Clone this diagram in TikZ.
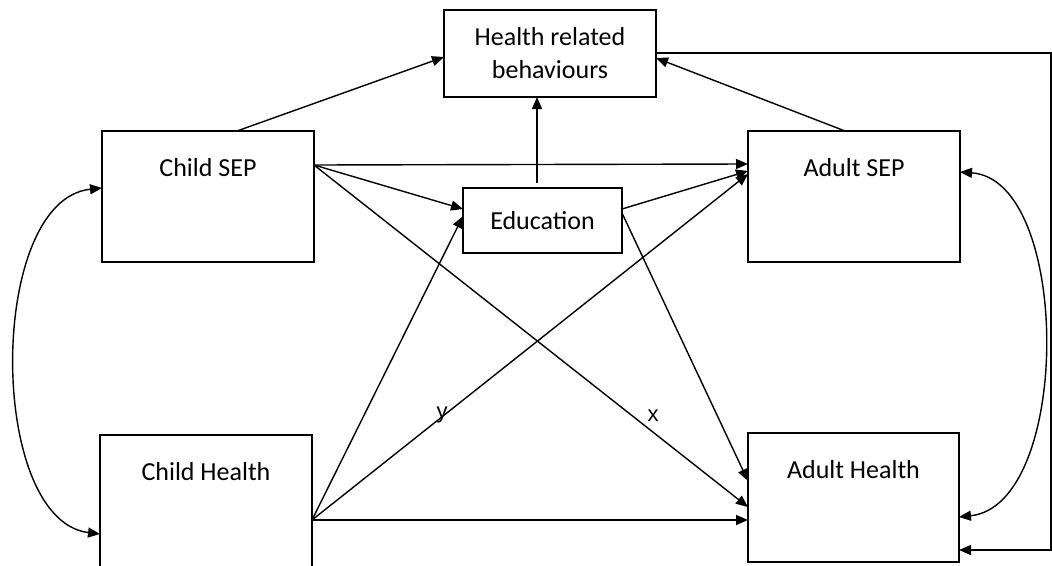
\documentclass[tikz,border=0pt]{standalone}
\usepackage{fontspec}
\setmainfont{Carlito}
\newfontfamily\arialish{Liberation Sans}
\usetikzlibrary{arrows.meta,calc}
\begin{document}
\begin{tikzpicture}[x=1pt,y=-1pt,
  box/.style={draw, line width=1.4pt, inner sep=0pt, outer sep=0pt, minimum width=#1},
  lbl/.style={font=\fontsize{26}{33}\selectfont, align=center, inner sep=0pt},
  edgelbl/.style={font=\arialish\fontsize{22}{26}\selectfont, inner sep=0pt},
  conn/.style={line width=1.4pt, -{Triangle[length=12pt,width=10pt]}},
  dconn/.style={line width=1.4pt, {Triangle[length=12pt,width=10pt]}-{Triangle[length=12pt,width=10pt]}},
  plain/.style={line width=1.4pt}]
\clip (0,0) rectangle (1052,565);
\fill[white] (0,0) rectangle (1052,565);
% boxes
\node[box=212pt, minimum height=87pt] (hrb) at (550,53.5) {};
\node[box=212pt, minimum height=131pt] (csep) at (208,196.5) {};
\node[box=212pt, minimum height=131pt] (asep) at (854,196.5) {};
\node[box=159pt, minimum height=65pt] (edu) at (542.5,220.5) {};
\node[box=212pt, minimum height=135pt] (chealth) at (206,502.5) {};
\node[box=211pt, minimum height=129pt] (ahealth) at (853.5,497.5) {};
% texts
\node[lbl] (hrbt) at (hrb.center) {Health related\\behaviours};
\node[lbl] (csept) at ($(csep.north)+(0,37)$) {Child SEP};
\node[lbl] (asept) at ($(asep.north)+(0,37)$) {Adult SEP};
\node[lbl] (edut) at (edu.center) {Education};
\node[lbl] (cht) at ($(chealth.north)+(0,37)$) {Child Health};
\node[lbl] (aht) at ($(ahealth.north)+(0,37)$) {Adult Health};
% connectors to health related behaviours
\draw[conn] ($(csep.north west)+(135,0)$) -- ($(hrb.north west)+(0,47)$);
\draw[conn] ($(asep.north west)+(97,0)$) -- ($(hrb.north east)+(0,48)$);
\draw[conn] ($(edu.north west)+(74,-5)$) -- ($(hrb.south west)+(93,0)$);
% from child SEP
\coordinate (cport) at ($(csep.north east)+(0,34)$);
\draw[conn] (cport) -- ($(asep.north west)+(0,33)$);
\draw[conn] (cport) -- ($(edu.north west)+(0,21)$);
\draw[conn] (cport) -- ($(ahealth.north west)+(0,74)$);
% from education
\draw[conn] ($(edu.north east)+(0,21)$) -- ($(asep.north west)+(0,40)$);
\draw[conn] ($(edu.north east)+(0,25)$) -- ($(ahealth.north west)+(0,48)$);
% from child health
\coordinate (hport) at ($(chealth.north east)+(0,85)$);
\draw[conn] (hport) -- ($(edu.north west)+(0,28)$);
\draw[conn] (hport) -- ($(asep.north west)+(0,43)$);
\draw[conn] (hport) -- ($(ahealth.north west)+(0,87)$);
% edge labels
\node[edgelbl] (lx) at (653,416) {x};
\node[edgelbl] (ly) at (442,415) {y};
% loop from behaviours to adult health
\coordinate (loopc) at (1051,300);
\draw[conn] ($(hrb.north east)+(0,43)$) -| (loopc) |- ($(ahealth.north east)+(0,117)$);
% correlations
\draw[dconn] ($(csep.north west)+(0,57)$) .. controls (-13,200) and (-13,520) .. ($(chealth.north west)+(0,99)$);
\draw[dconn] ($(asep.north east)+(0,41)$) .. controls (1072,180) and (1072,505) .. ($(ahealth.north east)+(0,84)$);
\end{tikzpicture}
\end{document}
